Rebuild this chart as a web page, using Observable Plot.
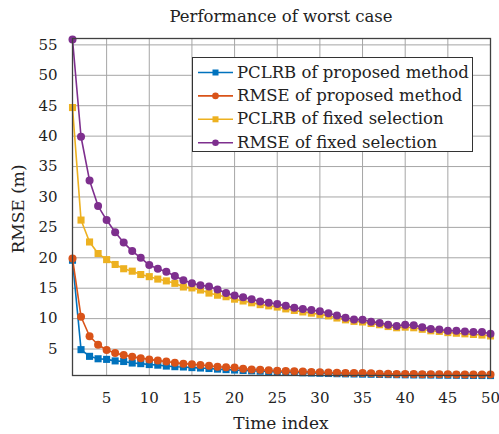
<!DOCTYPE html>
<html><head><meta charset="utf-8">
<script src="https://cdn.jsdelivr.net/npm/d3@7"></script>
<script src="https://cdn.jsdelivr.net/npm/@observablehq/plot@0.6"></script>
<style>
body{margin:0;background:#fff;}
#wrap{position:relative;width:499px;height:434px;font-family:"DejaVu Serif",serif;color:#222;overflow:hidden;}
#title{position:absolute;left:72px;width:418px;top:8px;height:17px;line-height:17px;text-align:center;font-size:16.5px;}
#chart{position:absolute;top:30px;left:0;}
#xlabel{position:absolute;left:72px;width:418px;top:414px;height:18px;line-height:18px;text-align:center;font-size:17px;}
#ylabel{position:absolute;left:-42px;top:200px;width:120px;height:18px;line-height:18px;text-align:center;font-size:17px;transform:rotate(-90deg);}
#legend{position:absolute;left:192px;top:57px;}
#chart svg text, #legend svg text{font-family:"DejaVu Serif",serif;}
</style>
</head><body>
<div id="wrap">
  <div id="title">Performance of worst case</div>
  <div id="chart"></div>
  <div id="xlabel">Time index</div>
  <div id="ylabel">RMSE (m)</div>
  <div id="legend"></div>
</div>
<script>
const timeIndex = [1,2,3,4,5,6,7,8,9,10,11,12,13,14,15,16,17,18,19,20,21,22,23,24,25,26,27,28,29,30,31,32,33,34,35,36,37,38,39,40,41,42,43,44,45,46,47,48,49,50];

const pclrbProposed = [19.6,4.9,3.8,3.4,3.3,3.05,2.95,2.7,2.6,2.45,2.35,2.2,2.1,2.05,1.95,1.88,1.8,1.7,1.62,1.55,1.48,1.42,1.36,1.3,1.25,1.2,1.15,1.1,1.06,1.02,0.98,0.95,0.92,0.9,0.87,0.85,0.82,0.8,0.78,0.76,0.74,0.73,0.72,0.7,0.69,0.68,0.67,0.66,0.65,0.64];

const rmseProposed = [19.9,10.3,7.1,5.7,4.85,4.35,4.0,3.75,3.5,3.3,3.1,2.95,2.75,2.6,2.5,2.38,2.25,2.1,2.0,1.95,1.75,1.65,1.6,1.5,1.42,1.4,1.35,1.3,1.22,1.2,1.15,1.1,1.05,1.05,1.05,1.0,0.95,0.92,0.9,0.9,0.88,0.87,0.86,0.85,0.84,0.83,0.82,0.82,0.81,0.8];

const pclrbFixed = [44.7,26.2,22.6,20.7,19.7,18.9,18.2,17.8,17.25,16.9,16.5,16.2,15.8,15.2,15.05,14.7,14.2,13.85,13.6,13.2,12.9,12.6,12.3,12.1,11.9,11.6,11.35,11.1,10.9,10.7,10.45,10.1,9.8,9.55,9.45,9.2,9.0,8.7,8.5,8.6,8.5,8.25,8.0,7.9,7.7,7.6,7.5,7.4,7.3,7.15];

const rmseFixed = [55.9,39.9,32.7,28.5,26.2,24.2,22.5,21.1,20.0,18.8,18.2,17.7,17.0,16.3,15.8,15.5,15.3,14.8,14.2,13.8,13.5,13.2,12.8,12.6,12.4,12.1,11.8,11.6,11.4,11.2,10.9,10.5,10.15,9.85,9.8,9.5,9.3,9.0,8.8,9.0,8.9,8.6,8.3,8.2,8.0,8.0,7.9,7.8,7.8,7.5];

const seriesNames = ["PCLRB of proposed method","RMSE of proposed method","PCLRB of fixed selection","RMSE of fixed selection"];
const seriesColors = ["#0072BD","#D95319","#EDB120","#7E2F8E"];
const seriesSymbols = ["square","circle","square","circle"];
const seriesValues = [pclrbProposed, rmseProposed, pclrbFixed, rmseFixed];

const xTicks = [5,10,15,20,25,30,35,40,45,50];
const yTicks = [5,10,15,20,25,30,35,40,45,50,55];

const rows = [];
seriesValues.forEach((vals, s) => vals.forEach((v, i) => rows.push({series: seriesNames[s], s, t: timeIndex[i], v})));

const marks = [
  Plot.ruleX(xTicks, {stroke: "#a6a6a6", strokeWidth: 1}),
  Plot.ruleY(yTicks, {stroke: "#a6a6a6", strokeWidth: 1}),
];
seriesNames.forEach((name, s) => {
  const d = rows.filter(r => r.s === s);
  marks.push(Plot.line(d, {x: "t", y: "v", stroke: seriesColors[s], strokeWidth: 1.6}));
  marks.push(Plot.dot(d, {x: "t", y: "v", fill: seriesColors[s], stroke: "none", r: 4, symbol: seriesSymbols[s]}));
});
marks.push(Plot.frame({stroke: "#404040", strokeWidth: 1.3}));
marks.push(Plot.axisX(xTicks, {tickSize: 0, tickPadding: 17, label: null, fill: "#222"}));
marks.push(Plot.axisY(yTicks, {tickSize: 0, tickPadding: 15, label: null, fill: "#222"}));

const chart = Plot.plot({
  width: 499, height: 404,
  marginTop: 8, marginRight: 9, marginBottom: 59, marginLeft: 72,
  x: {domain: [1, 50]},
  y: {domain: [0.65, 56.05]},
  style: {fontFamily: "'DejaVu Serif', serif", fontSize: "15px", background: "white", overflow: "visible"},
  marks
});
document.getElementById("chart").appendChild(chart);

// legend
const lw = 281, lh = 95;
const lsvg = d3.select("#legend").append("svg").attr("width", lw).attr("height", lh);
lsvg.append("rect").attr("x", 0.5).attr("y", 0.5).attr("width", lw - 1).attr("height", lh - 1)
  .attr("fill", "white").attr("stroke", "#333").attr("stroke-width", 1);
seriesNames.forEach((name, s) => {
  const cy = 15.5 + s * 23.4;
  const g = lsvg.append("g");
  g.append("line").attr("x1", 6).attr("x2", 41).attr("y1", cy).attr("y2", cy)
    .attr("stroke", seriesColors[s]).attr("stroke-width", 1.6);
  if (seriesSymbols[s] === "square") {
    g.append("rect").attr("x", 23.5 - 3).attr("y", cy - 3).attr("width", 6).attr("height", 6).attr("fill", seriesColors[s]);
  } else {
    g.append("circle").attr("cx", 23.5).attr("cy", cy).attr("r", 3.3).attr("fill", seriesColors[s]);
  }
  g.append("text").attr("x", 45).attr("y", cy + 5).attr("font-size", 16.5)
    .attr("fill", "#222").text(name);
});
</script>
</body></html>
